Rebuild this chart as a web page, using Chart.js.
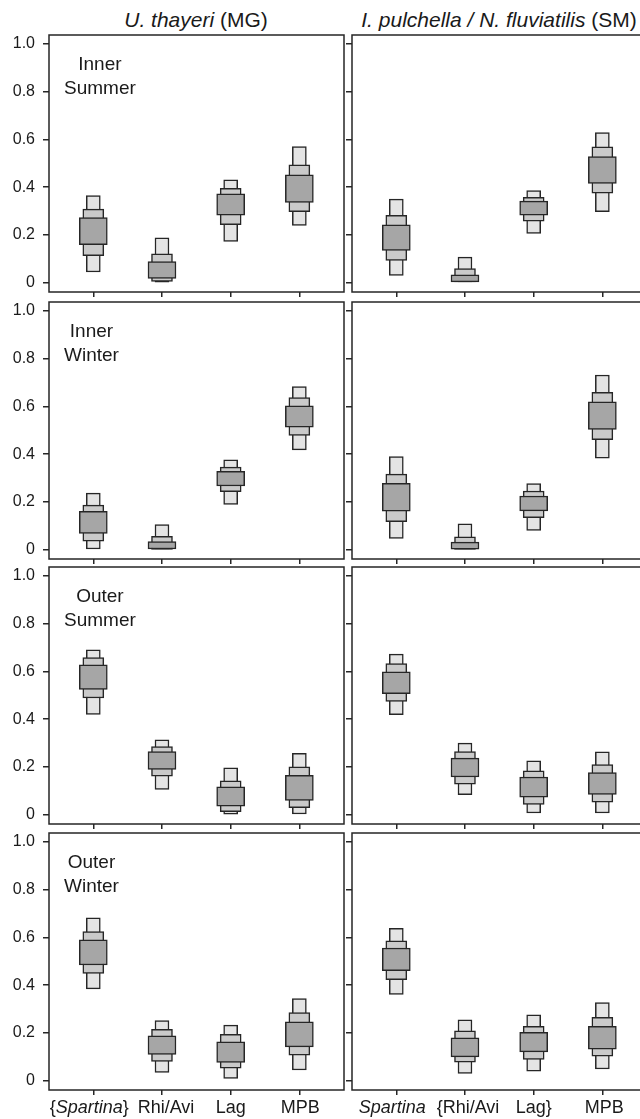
<!DOCTYPE html>
<html>
<head>
<meta charset="utf-8">
<script src="https://cdn.jsdelivr.net/npm/chart.js@4.4.1/dist/chart.umd.min.js"></script>
<style>
  html, body { margin: 0; padding: 0; background: #fff; }
  body { position: relative; width: 640px; height: 1119px; overflow: hidden;
         font-family: "Liberation Sans", Arial, sans-serif; color: #1a1a1a; }
  canvas { position: absolute; }
  .title { position: absolute; top: 9px; font-size: 21px; line-height: 21px; white-space: nowrap; transform: translateX(-50%); }
  .site { position: absolute; left: 64px; font-size: 19px; line-height: 24px; text-align: center; }
  .xlab { position: absolute; top: 1098px; font-size: 18px; line-height: 18px; white-space: nowrap; transform: translateX(-50%); }
</style>
</head>
<body>
<div class="title" style="left:196px"><i>U. thayeri</i> (MG)</div>
<div class="title" style="left:499px"><i>I. pulchella / N. fluviatilis</i> (SM)</div>
<script>
const categories = ['Spartina', 'Rhi/Avi', 'Lag', 'MPB'];
const xLabelsMG = ['{<i>Spartina</i>}', 'Rhi/Avi', 'Lag', 'MPB'];
const xLabelsSM = ['<i>Spartina</i>', '{Rhi/Avi', 'Lag}', 'MPB'];
const yTicks = [0, 0.2, 0.4, 0.6, 0.8, 1.0];
const yTickLabels = ['0', '0.2', '0.4', '0.6', '0.8', '1.0'];
const sites = [['Inner', 'Summer'], ['Inner', 'Winter'], ['Outer', 'Summer'], ['Outer', 'Winter']];

// source contributions, [low, high] of the 95, 75 and 50 % intervals
// U. thayeri (MG)
const mgInnerSummer95 = [[0.045, 0.365], [0.002, 0.188], [0.173, 0.431], [0.240, 0.570]];
const mgInnerSummer75 = [[0.113, 0.308], [0.005, 0.121], [0.243, 0.395], [0.298, 0.494]];
const mgInnerSummer50 = [[0.159, 0.273], [0.018, 0.089], [0.283, 0.372], [0.336, 0.452]];

const mgInnerWinter95 = [[0.003, 0.237], [0.000, 0.105], [0.190, 0.377], [0.418, 0.684]];
const mgInnerWinter75 = [[0.036, 0.187], [0.001, 0.056], [0.243, 0.346], [0.479, 0.637]];
const mgInnerWinter50 = [[0.068, 0.161], [0.003, 0.034], [0.267, 0.328], [0.513, 0.603]];

const mgOuterSummer95 = [[0.420, 0.691], [0.106, 0.314], [0.002, 0.196], [0.003, 0.257]];
const mgOuterSummer75 = [[0.489, 0.658], [0.161, 0.285], [0.013, 0.142], [0.029, 0.201]];
const mgOuterSummer50 = [[0.525, 0.628], [0.190, 0.264], [0.036, 0.117], [0.060, 0.165]];

const mgOuterWinter95 = [[0.385, 0.682], [0.035, 0.252], [0.010, 0.233], [0.045, 0.344]];
const mgOuterWinter75 = [[0.450, 0.625], [0.081, 0.215], [0.053, 0.194], [0.107, 0.285]];
const mgOuterWinter50 = [[0.485, 0.590], [0.110, 0.188], [0.077, 0.163], [0.142, 0.247]];

// I. pulchella / N. fluviatilis (SM)
const smInnerSummer95 = [[0.031, 0.350], [0.000, 0.107], [0.206, 0.386], [0.298, 0.629]];
const smInnerSummer75 = [[0.093, 0.282], [0.000, 0.059], [0.258, 0.358], [0.375, 0.569]];
const smInnerSummer50 = [[0.135, 0.243], [0.000, 0.033], [0.283, 0.342], [0.416, 0.529]];

const smInnerWinter95 = [[0.047, 0.390], [0.000, 0.108], [0.081, 0.277], [0.384, 0.732]];
const smInnerWinter75 = [[0.117, 0.317], [0.001, 0.054], [0.134, 0.246], [0.461, 0.659]];
const smInnerWinter50 = [[0.161, 0.278], [0.002, 0.032], [0.163, 0.225], [0.504, 0.620]];

const smOuterSummer95 = [[0.419, 0.673], [0.084, 0.300], [0.007, 0.226], [0.007, 0.263]];
const smOuterSummer75 = [[0.475, 0.633], [0.128, 0.264], [0.043, 0.184], [0.052, 0.210]];
const smOuterSummer50 = [[0.507, 0.599], [0.158, 0.237], [0.073, 0.158], [0.085, 0.177]];

const smOuterWinter95 = [[0.362, 0.638], [0.031, 0.255], [0.040, 0.276], [0.049, 0.327]];
const smOuterWinter75 = [[0.423, 0.586], [0.078, 0.209], [0.089, 0.228], [0.103, 0.266]];
const smOuterWinter50 = [[0.461, 0.556], [0.100, 0.180], [0.121, 0.203], [0.132, 0.228]];

const panels = [
  { row: 0, col: 0, p95: mgInnerSummer95, p75: mgInnerSummer75, p50: mgInnerSummer50 },
  { row: 0, col: 1, p95: smInnerSummer95, p75: smInnerSummer75, p50: smInnerSummer50 },
  { row: 1, col: 0, p95: mgInnerWinter95, p75: mgInnerWinter75, p50: mgInnerWinter50 },
  { row: 1, col: 1, p95: smInnerWinter95, p75: smInnerWinter75, p50: smInnerWinter50 },
  { row: 2, col: 0, p95: mgOuterSummer95, p75: mgOuterSummer75, p50: mgOuterSummer50 },
  { row: 2, col: 1, p95: smOuterSummer95, p75: smOuterSummer75, p50: smOuterSummer50 },
  { row: 3, col: 0, p95: mgOuterWinter95, p75: mgOuterWinter75, p50: mgOuterWinter50 },
  { row: 3, col: 1, p95: smOuterWinter95, p75: smOuterWinter75, p50: smOuterWinter50 }
];

// layout
const rowTop = [35, 302, 567, 833];
const areaH = 257;
const cols = [
  { left: 0, width: 350, axisW: 49, padR: 6, tick: 6, labels: xLabelsMG, nudge: [-4, 4, 0, 1] },
  { left: 346, width: 302, axisW: 6, padR: 1, tick: 6, labels: xLabelsSM, nudge: [-4, 3, 0, 2] }
];
const ink = '#262626';

Chart.defaults.font.family = '"Liberation Sans", Arial, sans-serif';
Chart.defaults.color = '#1a1a1a';

// box round the plot area
const frame = {
  id: 'frame',
  afterDraw(chart) {
    const { ctx, chartArea: a } = chart;
    ctx.save();
    ctx.strokeStyle = ink;
    ctx.lineWidth = 1.5;
    ctx.strokeRect(a.left, a.top, a.right - a.left, a.bottom - a.top);
    ctx.restore();
  }
};

function toBars(arr) {
  return arr.map((v, i) => ({ x: i, y: v }));
}

panels.forEach(p => {
  const col = cols[p.col];
  const canvas = document.createElement('canvas');
  canvas.width = col.width;
  canvas.height = 4 + areaH + 6;
  canvas.style.left = col.left + 'px';
  canvas.style.top = (rowTop[p.row] - 4) + 'px';
  document.body.appendChild(canvas);

  const chart = new Chart(canvas, {
    type: 'bar',
    data: {
      datasets: [
        { data: toBars(p.p50), backgroundColor: '#a6a6a6', barThickness: 28 },
        { data: toBars(p.p75), backgroundColor: '#cacaca', barThickness: 21 },
        { data: toBars(p.p95), backgroundColor: '#e4e4e4', barThickness: 14 }
      ]
    },
    options: {
      responsive: false,
      animation: false,
      events: [],
      datasets: { bar: { grouped: false, borderSkipped: false, borderWidth: 1.5, borderColor: ink } },
      layout: { padding: { top: 4, right: col.padR, left: 0, bottom: 0 } },
      plugins: { legend: { display: false }, tooltip: { enabled: false } },
      scales: {
        x: {
          type: 'linear', min: -0.645, max: 3.65, offset: false,
          afterBuildTicks: s => { s.ticks = categories.map((c, i) => ({ value: i })); },
          afterFit: s => { s.height = 6; s.paddingLeft = 0; s.paddingRight = 0; },
          ticks: { display: false },
          grid: { offset: false, drawOnChartArea: false, tickLength: 5, color: ink, lineWidth: 1.5 },
          border: { display: false }
        },
        y: {
          type: 'linear', min: -0.039, max: 1.038,
          afterBuildTicks: s => { s.ticks = yTicks.map(v => ({ value: v })); },
          afterFit: s => { s.width = col.axisW; s.paddingTop = 0; s.paddingBottom = 0; },
          ticks: { display: p.col === 0, callback: (v, i) => yTickLabels[i], font: { size: 16 }, padding: 8 },
          grid: { drawOnChartArea: false, tickLength: col.tick, color: ink, lineWidth: 1.5 },
          border: { display: false }
        }
      }
    },
    plugins: [frame]
  });

  if (p.col === 0) {
    const lab = document.createElement('div');
    lab.className = 'site';
    lab.style.top = (rowTop[p.row] + 17.4) + 'px';
    lab.innerHTML = sites[p.row].join('<br>');
    document.body.appendChild(lab);
  }

  if (p.row === 3) {
    col.labels.forEach((t, i) => {
      const d = document.createElement('div');
      d.className = 'xlab';
      d.style.left = (col.left + chart.scales.x.getPixelForValue(i) + col.nudge[i]) + 'px';
      d.innerHTML = t;
      document.body.appendChild(d);
    });
  }
});
</script>
</body>
</html>
